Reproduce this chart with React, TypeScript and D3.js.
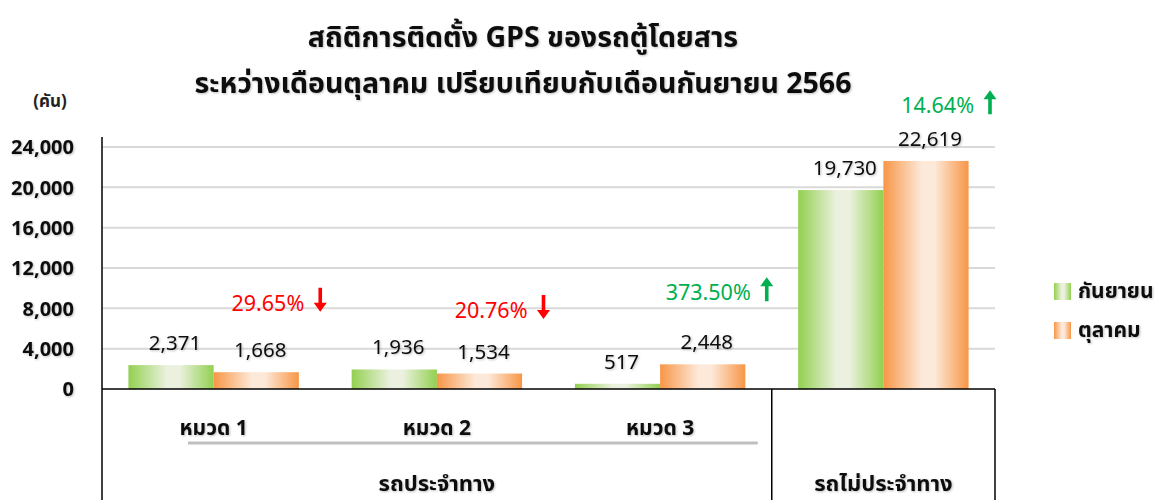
import { useEffect, useRef } from "react";
import * as d3 from "d3";

// categories / values
const groups = ["หมวด 1", "หมวด 2", "หมวด 3", "ไม่ประจำทาง"];
const subLabels = ["หมวด 1", "หมวด 2", "หมวด 3", ""];
const seriesNames = ["กันยายน", "ตุลาคม"];
const sepValues = [2371, 1936, 517, 19730];
const octValues = [1668, 1534, 2448, 22619];
const changeText = ["29.65%", "20.76%", "373.50%", "14.64%"];
const changeUp = [false, false, true, true];
const changeLevel = [7750, 7050, 8800, 27350]; // y value where the % note sits
const yTicks = [0, 4000, 8000, 12000, 16000, 20000, 24000];
const titleLines = [
  "สถิติการติดตั้ง GPS ของรถตู้โดยสาร",
  "ระหว่างเดือนตุลาคม เปรียบเทียบกับเดือนกันยายน 2566",
];

const FONT = "Tahoma, 'Noto Sans Thai', 'Noto Sans', 'DejaVu Sans', sans-serif";
const GREEN = "#92D050";
const ORANGE = "#F79646";

export default function App() {
  const svgRef = useRef<SVGSVGElement | null>(null);

  useEffect(() => {
    const width = 1168;
    const height = 500;
    const svg = d3.select(svgRef.current);
    svg.selectAll("*").remove();
    svg.attr("width", width).attr("height", height);

    const margin = { left: 102, right: 173, top: 147, baseline: 389 };

    const defs = svg.append("defs");
    const grad = (id: string, c: string, light: string) => {
      const g = defs.append("linearGradient").attr("id", id).attr("x1", "0%").attr("x2", "100%");
      g.append("stop").attr("offset", "0%").attr("stop-color", c);
      g.append("stop").attr("offset", "45%").attr("stop-color", light);
      g.append("stop").attr("offset", "60%").attr("stop-color", light);
      g.append("stop").attr("offset", "100%").attr("stop-color", c);
    };
    grad("gGreen", GREEN, "#EBF1DE");
    grad("gOrange", ORANGE, "#FDE9D9");
    const fills = ["url(#gGreen)", "url(#gOrange)"];

    const shadow = defs.append("filter").attr("id", "ts").attr("x", "-10%").attr("y", "-10%").attr("width", "130%").attr("height", "140%");
    shadow.append("feDropShadow").attr("dx", 1).attr("dy", 1).attr("stdDeviation", 0.8).attr("flood-color", "#000").attr("flood-opacity", 0.25);

    const x = d3.scaleBand().domain(groups).range([margin.left, width - margin.right]).paddingInner(0).paddingOuter(0);
    const inner = d3.scaleBand().domain(seriesNames).range([0, x.bandwidth()]).paddingInner(0).paddingOuter(0.31);
    const y = d3.scaleLinear().domain([0, 24000]).range([margin.baseline, margin.top]);

    // title
    svg.append("g")
      .selectAll("text")
      .data(titleLines)
      .join("text")
      .attr("x", 523)
      .attr("y", (_, i) => 47 + i * 46)
      .attr("text-anchor", "middle")
      .attr("font-family", FONT)
      .attr("font-weight", "bold")
      .attr("font-size", 28.5)
      .attr("fill", "#111")
      .attr("filter", "url(#ts)")
      .text((d) => d);

    // unit
    svg.append("text")
      .attr("x", 50).attr("y", 107)
      .attr("text-anchor", "middle")
      .attr("font-family", FONT).attr("font-weight", "bold").attr("font-size", 17)
      .attr("fill", "#222")
      .text("(คัน)");

    // gridlines
    svg.append("g")
      .selectAll("line")
      .data(yTicks.filter((t) => t > 0))
      .join("line")
      .attr("x1", margin.left).attr("x2", width - margin.right)
      .attr("y1", (d) => y(d)).attr("y2", (d) => y(d))
      .attr("stroke", "#D9D9D9").attr("stroke-width", 2);

    // y tick labels
    svg.append("g")
      .selectAll("text")
      .data(yTicks)
      .join("text")
      .attr("x", 74)
      .attr("y", (d) => y(d))
      .attr("dy", "0.36em")
      .attr("text-anchor", "end")
      .attr("font-family", FONT).attr("font-weight", "bold").attr("font-size", 20)
      .attr("fill", "#111")
      .attr("filter", "url(#ts)")
      .text((d) => d3.format(",")(d));

    // bars
    const rows = groups.map((g, i) => ({ g, i, vals: [sepValues[i], octValues[i]] }));
    const gBars = svg.append("g");
    rows.forEach((r) => {
      r.vals.forEach((v, j) => {
        const bx = (x(r.g) as number) + (inner(seriesNames[j]) as number);
        gBars.append("rect")
          .attr("x", bx).attr("y", y(v))
          .attr("width", inner.bandwidth()).attr("height", y(0) - y(v))
          .attr("fill", fills[j]);
        gBars.append("text")
          .attr("x", bx + inner.bandwidth() / 2 + 4)
          .attr("y", y(v) - 15)
          .attr("text-anchor", "middle")
          .attr("font-family", FONT).attr("font-size", 20.5)
          .attr("fill", "#111")
          .attr("filter", "url(#ts)")
          .text(d3.format(",")(v));
      });

      // % change note
      const right = (x(r.g) as number) + x.bandwidth();
      const ly = y(changeLevel[r.i]);
      const col = changeUp[r.i] ? "#00B050" : "#FF0000";
      gBars.append("text")
        .attr("x", right - 21).attr("y", ly)
        .attr("text-anchor", "end")
        .attr("font-family", FONT).attr("font-size", 21.5)
        .attr("fill", col)
        .text(changeText[r.i]);
      const ax = right - 5;
      const top = ly - 23;
      const bot = ly + 1;
      const arrow = changeUp[r.i]
        ? `M${ax - 1.8},${bot} L${ax - 1.8},${top + 9} L${ax - 6.5},${top + 9} L${ax},${top} L${ax + 6.5},${top + 9} L${ax + 1.8},${top + 9} L${ax + 1.8},${bot} Z`
        : `M${ax - 1.8},${top} L${ax - 1.8},${bot - 9} L${ax - 6.5},${bot - 9} L${ax},${bot} L${ax + 6.5},${bot - 9} L${ax + 1.8},${bot - 9} L${ax + 1.8},${top} Z`;
      gBars.append("path").attr("d", arrow).attr("fill", col);
    });

    // axes frame
    const axisG = svg.append("g").attr("stroke", "#000").attr("stroke-width", 1.5);
    axisG.append("line").attr("x1", margin.left).attr("x2", margin.left).attr("y1", 137).attr("y2", height);
    axisG.append("line").attr("x1", margin.left).attr("x2", width - margin.right).attr("y1", y(0)).attr("y2", y(0));
    const splitX = x(groups[3]) as number;
    axisG.append("line").attr("x1", splitX).attr("x2", splitX).attr("y1", y(0)).attr("y2", height);
    axisG.append("line").attr("x1", width - margin.right).attr("x2", width - margin.right).attr("y1", y(0)).attr("y2", height);

    // category labels
    svg.append("g")
      .selectAll("text")
      .data(subLabels.filter((s) => s))
      .join("text")
      .attr("x", (d) => (x(d) as number) + x.bandwidth() / 2)
      .attr("y", 435)
      .attr("text-anchor", "middle")
      .attr("font-family", FONT).attr("font-weight", "bold").attr("font-size", 21)
      .attr("fill", "#111")
      .attr("filter", "url(#ts)")
      .text((d) => d);

    svg.append("line")
      .attr("x1", (x(groups[0]) as number) + 86).attr("x2", (x(groups[2]) as number) + x.bandwidth() - 14)
      .attr("y1", 443).attr("y2", 443)
      .attr("stroke", "#BFBFBF").attr("stroke-width", 3);

    const outer = [
      { label: "รถประจำทาง", cx: ((x(groups[0]) as number) + splitX) / 2 },
      { label: "รถไม่ประจำทาง", cx: splitX + x.bandwidth() / 2 },
    ];
    svg.append("g")
      .selectAll("text")
      .data(outer)
      .join("text")
      .attr("x", (d) => d.cx)
      .attr("y", 491)
      .attr("text-anchor", "middle")
      .attr("font-family", FONT).attr("font-weight", "bold").attr("font-size", 22)
      .attr("fill", "#111")
      .attr("filter", "url(#ts)")
      .text((d) => d.label);

    // legend
    const leg = svg.append("g").attr("transform", "translate(1054,283)");
    seriesNames.forEach((n, i) => {
      leg.append("rect").attr("x", 0).attr("y", i * 39).attr("width", 17).attr("height", 17).attr("fill", fills[i]);
      leg.append("text")
        .attr("x", 24).attr("y", i * 39 + 15)
        .attr("font-family", FONT).attr("font-weight", "bold").attr("font-size", 21)
        .attr("fill", "#111")
        .attr("filter", "url(#ts)")
        .text(n);
    });
  }, []);

  return (
    <div style={{ position: "absolute", left: 0, top: 0 }}>
      <svg ref={svgRef} />
    </div>
  );
}
